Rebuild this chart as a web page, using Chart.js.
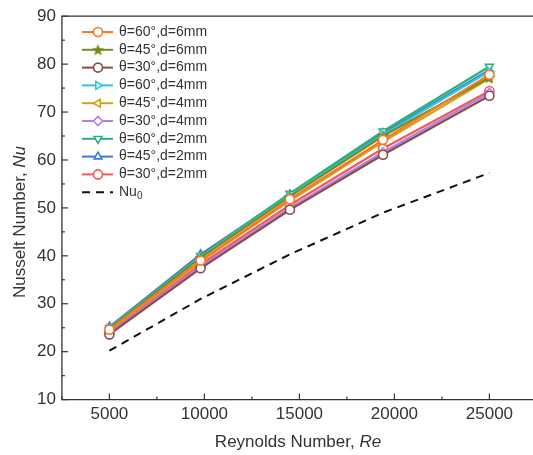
<!DOCTYPE html>
<html>
<head>
<meta charset="utf-8">
<script src="https://cdn.jsdelivr.net/npm/chart.js@4/dist/chart.umd.min.js"></script>
<style>
html, body { margin: 0; padding: 0; background: #fff; overflow: hidden; }
#caixa { width: 543px; height: 455px; position: relative; }
</style>
</head>
<body>
<div id="caixa"><canvas id="nusseltGrafico"></canvas></div>
<script>
const reynolds = [5000, 9800, 14500, 19400, 25000];
const rotulos = ["θ=60°,d=6mm", "θ=45°,d=6mm", "θ=30°,d=6mm", "θ=60°,d=4mm", "θ=45°,d=4mm",
                 "θ=30°,d=4mm", "θ=60°,d=2mm", "θ=45°,d=2mm", "θ=30°,d=2mm"];
const nu60d6 = [24.6, 39.0, 51.8, 64.2, 77.8];
const nu45d6 = [24.8, 39.6, 52.4, 65.0, 77.2];
const nu30d6 = [23.6, 37.4, 49.6, 61.1, 73.4];
const nu60d4 = [24.9, 39.8, 52.6, 65.3, 78.5];
const nu45d4 = [24.5, 38.8, 51.5, 63.8, 77.0];
const nu30d4 = [23.8, 37.8, 50.0, 61.6, 74.0];
const nu60d2 = [25.0, 40.0, 53.0, 66.0, 79.5];
const nu45d2 = [25.2, 40.3, 52.8, 65.6, 78.8];
const nu30d2 = [24.0, 38.2, 50.6, 62.4, 74.4];
const nu0 = [20.2, 31.0, 40.3, 49.0, 57.3];
const yTicks = [10, 20, 30, 40, 50, 60, 70, 80, 90];
const xTicks = [5000, 10000, 15000, 20000, 25000];

const cores = ["#f47a2a", "#7b8a1e", "#8c4b4b", "#2ec7d8", "#d4a21a", "#b27fe4", "#2fae7b", "#3b7bd6", "#ef5a5c"];

// estrela cheia (Chart.js só tem a estrela de traços)
function estrela(cor) {
    const c = document.createElement("canvas");
    c.width = 13; c.height = 13;
    const g = c.getContext("2d");
    g.fillStyle = cor;
    g.beginPath();
    for (let i = 0; i < 10; i++) {
        const r = i % 2 === 0 ? 6.5 : 2.7;
        const ang = -Math.PI / 2 + i * Math.PI / 5;
        g.lineTo(6.5 + r * Math.cos(ang), 7 + r * Math.sin(ang));
    }
    g.closePath();
    g.fill();
    return c;
}

const estilos = [
    {pointStyle: "circle", rot: 0},
    {pointStyle: estrela(cores[1]), rot: 0},
    {pointStyle: "circle", rot: 0},
    {pointStyle: "triangle", rot: 90},
    {pointStyle: "triangle", rot: -90},
    {pointStyle: "rectRot", rot: 0},
    {pointStyle: "triangle", rot: 180},
    {pointStyle: "triangle", rot: 0},
    {pointStyle: "circle", rot: 0}
];
const series = [nu60d6, nu45d6, nu30d6, nu60d4, nu45d4, nu30d4, nu60d2, nu45d2, nu30d2];

const conjuntos = series.map((s, i) => ({
    label: rotulos[i],
    data: s.map((v, k) => ({x: reynolds[k], y: v})),
    borderColor: cores[i],
    backgroundColor: cores[i],
    pointBackgroundColor: "#fff",
    pointBorderColor: cores[i],
    pointStyle: estilos[i].pointStyle,
    rotation: estilos[i].rot,
    pointRotation: estilos[i].rot,
    pointRadius: 4.5,
    pointBorderWidth: 1.6,
    borderWidth: 2.2
}));
conjuntos.push({
    label: "Nu0",
    data: nu0.map((v, k) => ({x: reynolds[k], y: v})),
    borderColor: "#111",
    borderWidth: 2,
    borderDash: [8, 6],
    pointRadius: 0
});

const eixosPlugin = {
    id: "eixos",
    afterDraw(chart) {
        const {ctx, chartArea: a, scales: {x, y}} = chart;
        ctx.save();
        ctx.strokeStyle = "#333";
        ctx.lineWidth = 1.3;
        ctx.beginPath();
        ctx.moveTo(a.left, a.top); ctx.lineTo(a.right, a.top); ctx.lineTo(a.right, a.bottom);
        ctx.lineTo(a.left, a.bottom); ctx.closePath();
        ctx.stroke();
        ctx.lineWidth = 1.2;
        for (let v = 10; v <= 90; v += 5) {
            const py = y.getPixelForValue(v);
            const len = v % 10 === 0 ? 6 : 3;
            ctx.beginPath(); ctx.moveTo(a.left, py); ctx.lineTo(a.left + len, py); ctx.stroke();
        }
        for (let v = 2500; v <= 27500; v += 2500) {
            const px = x.getPixelForValue(v);
            const len = v % 5000 === 0 ? 6 : 3;
            ctx.beginPath(); ctx.moveTo(px, a.bottom); ctx.lineTo(px, a.bottom - len); ctx.stroke();
        }

        // titulos dos eixos
        ctx.fillStyle = "#333";
        ctx.textBaseline = "middle";
        const fN = "17px 'Liberation Sans', Arial, sans-serif";
        const fI = "italic 17px 'Liberation Sans', Arial, sans-serif";
        ctx.font = fN;
        const t1 = "Reynolds Number, ";
        const w1 = ctx.measureText(t1).width;
        ctx.font = fI;
        const w2 = ctx.measureText("Re").width;
        const x0 = 298 - (w1 + w2) / 2;
        ctx.font = fN; ctx.textAlign = "left";
        ctx.fillText(t1, x0, 442);
        ctx.font = fI; ctx.fillText("Re", x0 + w1, 442);

        ctx.save();
        ctx.translate(20, 222);
        ctx.rotate(-Math.PI / 2);
        ctx.font = fN;
        const t3 = "Nusselt Number, ";
        const w3 = ctx.measureText(t3).width;
        ctx.font = fI;
        const w4 = ctx.measureText("Nu").width;
        ctx.font = fN;
        ctx.fillText(t3, -(w3 + w4) / 2, 0);
        ctx.font = fI;
        ctx.fillText("Nu", -(w3 + w4) / 2 + w3, 0);
        ctx.restore();

        // legenda
        const passo = 17.8;
        chart.data.datasets.forEach((d, i) => {
            const cy = 32 + i * passo;
            ctx.save();
            ctx.strokeStyle = d.borderColor;
            ctx.lineWidth = 2;
            if (d.borderDash) ctx.setLineDash([8, 6]);
            ctx.beginPath(); ctx.moveTo(82, cy); ctx.lineTo(113, cy); ctx.stroke();
            ctx.setLineDash([]);
            if (d.pointRadius > 0) {
                ctx.fillStyle = "#fff";
                ctx.strokeStyle = d.borderColor;
                ctx.lineWidth = 1.6;
                Chart.helpers.drawPoint(ctx, {pointStyle: d.pointStyle, rotation: d.rotation, radius: 4.5, borderWidth: 1.6}, 98, cy);
            }
            ctx.restore();
            ctx.fillStyle = "#333";
            ctx.font = "14px 'Liberation Sans', Arial, sans-serif";
            ctx.textAlign = "left";
            if (d.label === "Nu0") {
                ctx.fillText("Nu", 119, cy);
                const wn = ctx.measureText("Nu").width;
                ctx.font = "10px 'Liberation Sans', Arial, sans-serif";
                ctx.fillText("0", 119 + wn, cy + 4);
            } else {
                ctx.fillText(d.label, 119, cy);
            }
        });
        ctx.restore();
    }
};

new Chart(document.getElementById("nusseltGrafico"), {
    type: "line",
    data: { datasets: conjuntos },
    options: {
        responsive: true,
        maintainAspectRatio: false,
        animation: false,
        layout: { padding: { left: 31, top: 15, right: 0, bottom: 25 } },
        scales: {
            x: {
                type: "linear",
                min: 2500, max: 27500,
                grid: { display: false, drawTicks: false },
                border: { display: false },
                ticks: {
                    stepSize: 2500, autoSkip: false, maxRotation: 0, padding: 5,
                    color: "#333",
                    font: { family: "'Liberation Sans', Arial, sans-serif", size: 17 },
                    callback: v => xTicks.includes(v) ? String(v) : ""
                }
            },
            y: {
                min: 10, max: 90,
                grid: { display: false, drawTicks: false },
                border: { display: false },
                ticks: {
                    stepSize: 10, padding: 6,
                    color: "#333",
                    font: { family: "'Liberation Sans', Arial, sans-serif", size: 17 },
                    callback: v => yTicks.includes(v) ? String(v) : ""
                }
            }
        },
        plugins: {
            legend: { display: false },
            tooltip: { enabled: false }
        }
    },
    plugins: [eixosPlugin]
});
</script>
</body>
</html>
